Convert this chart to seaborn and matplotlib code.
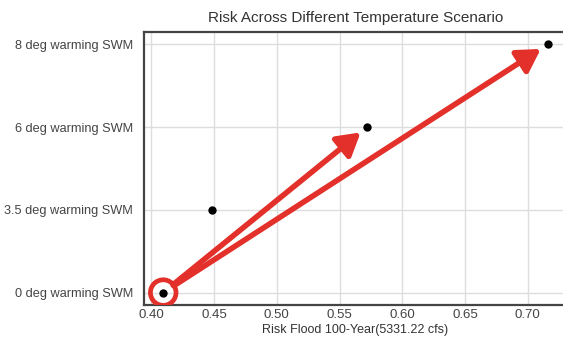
import matplotlib
matplotlib.use("Agg")
import matplotlib.pyplot as plt
import seaborn as sns
import pandas as pd

scenarios = ["0 deg warming SWM", "3.5 deg warming SWM", "6 deg warming SWM", "8 deg warming SWM"]
risk = [0.4095, 0.448, 0.572, 0.716]
xlabel = "Risk Flood 100-Year(5331.22 cfs)"
title = "Risk Across Different Temperature Scenario"

sns.set_theme(style="whitegrid")
plt.rcParams["font.family"] = ["Liberation Sans", "DejaVu Sans"]

df = pd.DataFrame({"scenario": scenarios, "risk": risk})

fig = plt.figure(figsize=(5.63, 3.39), dpi=100)
ax = fig.add_axes([144/563, 34/339, 423/563, 273/339])
sns.scatterplot(data=df, x="risk", y="scenario", color="black", s=36,
                edgecolor="black", linewidth=0, ax=ax, zorder=3)
if ax.yaxis_inverted():
    ax.invert_yaxis()

ax.set_xlabel(xlabel, fontsize=9, color="#333333", labelpad=2)
ax.set_ylabel("")
ax.set_title(title, fontsize=11, color="#333333", pad=7)
ax.set_xticks([0.40, 0.45, 0.50, 0.55, 0.60, 0.65, 0.70])
ax.set_xticklabels([f"{v:.2f}" for v in [0.40, 0.45, 0.50, 0.55, 0.60, 0.65, 0.70]])
ax.tick_params(axis="y", labelsize=9.2, colors="#444444", pad=8, length=0)
ax.tick_params(axis="x", labelsize=9.5, colors="#444444", pad=3, length=0)
ax.grid(True, color="#dddddd", linewidth=1)
for sp in ax.spines.values():
    sp.set_color("#444444")
    sp.set_linewidth(1.6)

red = "#e3302a"
ax.scatter([risk[0]], [0], s=340, facecolors="none", edgecolors=red, linewidths=3.4, zorder=4)
for i in (2, 3):
    ax.annotate("", xy=(risk[i], i), xytext=(risk[0], 0),
                arrowprops=dict(arrowstyle="-|>,head_length=0.85,head_width=0.5", color=red, lw=4,
                                shrinkA=9, shrinkB=6, mutation_scale=16),
                zorder=5)

fig.savefig("out.png", dpi=100)
